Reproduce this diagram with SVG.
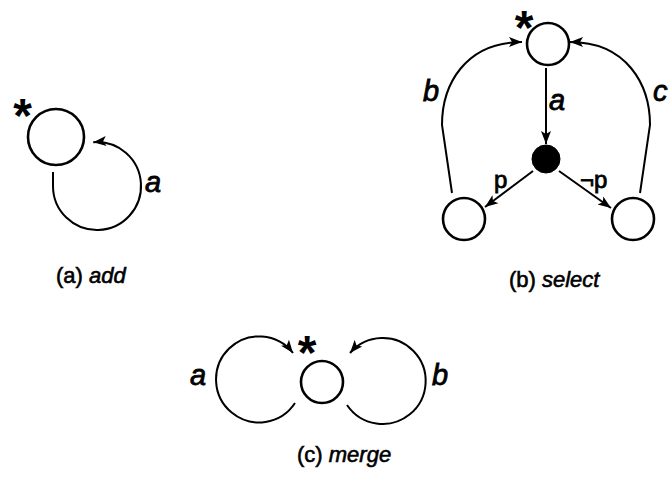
<svg xmlns="http://www.w3.org/2000/svg" width="668" height="487" viewBox="0 0 668 487">
  <defs>
    <marker id="arrow" markerUnits="userSpaceOnUse" markerWidth="14" markerHeight="12" viewBox="0 0 14 12" refX="13" refY="6" orient="auto">
      <path d="M0,1 L13,6 L0,11 L3,6 z" fill="#000"/>
    </marker>
    <style>
      .state { fill: #fff; stroke: #000; stroke-width: 2.6; }
      .choice { fill: #000; stroke: #000; stroke-width: 1; }
      .edge { fill: none; stroke: #000; stroke-width: 2; marker-end: url(#arrow); }
      text { font-family: "Liberation Sans", Arial, Helvetica, sans-serif; fill: #000; stroke: #000; stroke-width: 0.8; }
      .label { font-size: 29px; font-style: italic; }
      .guard { font-size: 24px; }
      .caption { font-size: 22px; stroke-width: 0.6; }
      .caption tspan.name { font-style: italic; }
      .star { font-size: 48px; font-weight: bold; text-anchor: middle; stroke-width: 0; }
    </style>
  </defs>
  <rect width="668" height="487" fill="#fff"/>

  <!-- connectors -->
  <g id="connectors">
    <!-- (a) add: self loop -->
    <path class="edge" d="M53,172 L53,186 A44,44 0 1 0 93.2,142.2"/>
    <!-- (b) select -->
    <path class="edge" d="M546,68 L546,144"/>
    <path class="edge" d="M533,171 L485,207"/>
    <path class="edge" d="M559,171 L611,208"/>
    <path class="edge" d="M452,193 L442,125 C442,85 465,42 522,42"/>
    <path class="edge" d="M640,193 L650,125 C650,85 627,42 570,42"/>
    <!-- (c) merge -->
    <path class="edge" d="M295,403 A43,43 0 1 1 293,353"/>
    <path class="edge" d="M347,405 A43,43 0 1 0 350,353"/>
  </g>

  <!-- (a) add -->
  <g id="add-state">
    <circle class="state" cx="56" cy="137" r="28"/>
    <text class="star" x="22.5" y="132">*</text>
  </g>
  <g id="add-labels">
    <text class="label" x="145" y="192">a</text>
    <text class="caption" x="56" y="283">(a) <tspan class="name">add</tspan></text>
  </g>

  <!-- (b) select -->
  <g id="select-start">
    <circle class="state" cx="548" cy="44" r="21"/>
    <text class="star" x="524" y="44">*</text>
  </g>
  <g id="select-choice">
    <circle class="choice" cx="546" cy="159" r="14"/>
  </g>
  <g id="select-left">
    <circle class="state" cx="464" cy="219" r="21"/>
  </g>
  <g id="select-right">
    <circle class="state" cx="633" cy="219" r="21"/>
  </g>
  <g id="select-labels">
    <text class="label" x="549" y="110">a</text>
    <text class="label" x="423" y="101">b</text>
    <text class="label" x="653" y="101">c</text>
    <text class="guard" x="494" y="188">p</text>
    <text class="guard" x="580" y="188">¬p</text>
    <text class="caption" x="509" y="287">(b) <tspan class="name">select</tspan></text>
  </g>

  <!-- (c) merge -->
  <g id="merge-state">
    <circle class="state" cx="322" cy="382" r="21"/>
    <text class="star" x="307" y="369">*</text>
  </g>
  <g id="merge-labels">
    <text class="label" x="190" y="385">a</text>
    <text class="label" x="432" y="385">b</text>
    <text class="caption" x="297" y="462">(c) <tspan class="name">merge</tspan></text>
  </g>
</svg>
